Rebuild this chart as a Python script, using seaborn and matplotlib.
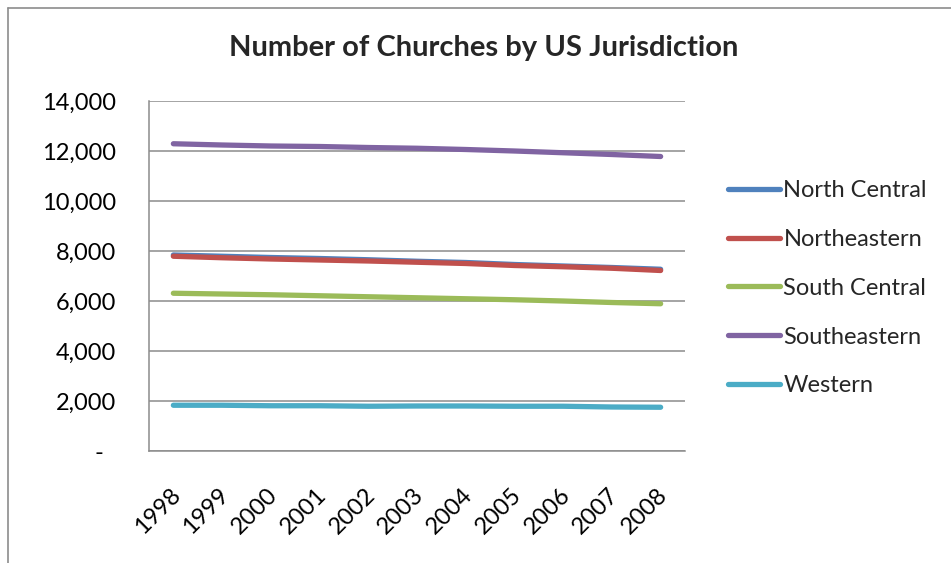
import matplotlib
matplotlib.use("Agg")
import matplotlib.pyplot as plt
from matplotlib.lines import Line2D
from matplotlib.ticker import FuncFormatter
import matplotlib.transforms as mtransforms
import seaborn as sns
import pandas as pd

years = [1998, 1999, 2000, 2001, 2002, 2003, 2004, 2005, 2006, 2007, 2008]
north_central = [7840, 7790, 7740, 7700, 7650, 7590, 7540, 7460, 7400, 7340, 7270]
northeastern = [7790, 7730, 7680, 7640, 7600, 7550, 7500, 7420, 7370, 7310, 7220]
south_central = [6310, 6280, 6250, 6210, 6170, 6130, 6090, 6050, 6000, 5940, 5890]
southeastern = [12290, 12240, 12200, 12180, 12140, 12110, 12060, 12000, 11930, 11860, 11780]
western = [1830, 1830, 1810, 1810, 1790, 1800, 1800, 1790, 1790, 1760, 1750]

series = {
    "North Central": north_central,
    "Northeastern": northeastern,
    "South Central": south_central,
    "Southeastern": southeastern,
    "Western": western,
}
colors = ["#4F81BD", "#C0504D", "#9BBB59", "#8064A2", "#4BACC6"]

rows = []
for name, vals in series.items():
    for i, (yr, v) in enumerate(zip(years, vals)):
        rows.append({"pos": i, "year": str(yr), "Jurisdiction": name, "Churches": v})
df = pd.DataFrame(rows)

sns.set_theme(style="white")
plt.rcParams["font.family"] = ["Lato", "DejaVu Sans"]

fig = plt.figure(figsize=(9.51, 5.63), dpi=100)
ax = fig.add_axes([149 / 951, 1 - 451 / 563, (685 - 149) / 951, (451 - 101) / 563])

sns.lineplot(data=df, x="pos", y="Churches", hue="Jurisdiction",
             palette=colors, linewidth=3.8, ax=ax, legend=False,
             solid_capstyle="round")

grid_c = "#8C8C8C"
ax.set_xlim(-0.5, len(years) - 0.5)
ax.set_ylim(0, 14000)
ax.set_yticks(range(0, 14001, 2000))
ax.yaxis.set_major_formatter(FuncFormatter(lambda v, p: "-  " if v == 0 else f"{int(v):,}"))
ax.set_xticks(range(len(years)))
ax.set_xticklabels([str(y) for y in years], rotation=45, ha="right",
                   rotation_mode="anchor")
ax.tick_params(axis="x", length=0, pad=24, labelsize=17, colors="black")
ax.tick_params(axis="y", length=0, pad=24, labelsize=17, colors="black")
shift = mtransforms.ScaledTranslation(-4 / 100, 0, fig.dpi_scale_trans)
for lab in ax.get_xticklabels():
    lab.set_transform(lab.get_transform() + shift)
ax.grid(axis="y", color=grid_c, linewidth=1.1)
ax.set_axisbelow(True)
for side in ["top", "right"]:
    ax.spines[side].set_visible(False)
for side in ["left", "bottom"]:
    ax.spines[side].set_color(grid_c)
    ax.spines[side].set_linewidth(1.1)
ax.set_xlabel("")
ax.set_ylabel("")

fig.text(484 / 951, 1 - 48 / 563, "Number of Churches by US Jurisdiction",
         ha="center", va="center", fontsize=21, fontweight="bold")

handles = [Line2D([0], [0], color=c, linewidth=3.8, solid_capstyle="round") for c in colors]
fig.legend(handles, list(series.keys()), loc="upper left",
           bbox_to_anchor=(728 / 951, 1 - 180 / 563), frameon=False,
           fontsize=17, handlelength=2.2, handletextpad=0.15, labelspacing=1.18,
           borderpad=0, borderaxespad=0)

# chart frame
fig.add_artist(Line2D([8 / 951, 8 / 951], [0, 1 - 8 / 563], transform=fig.transFigure,
                      color=grid_c, linewidth=1.2))
fig.add_artist(Line2D([8 / 951, 1], [1 - 8 / 563, 1 - 8 / 563], transform=fig.transFigure,
                      color=grid_c, linewidth=1.2))

fig.savefig("out.png", dpi=100)
